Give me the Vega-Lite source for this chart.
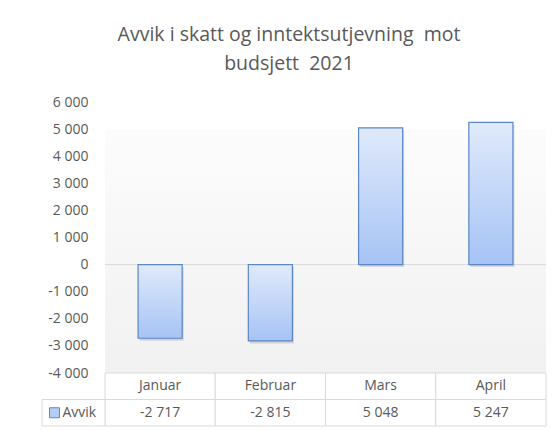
{
  "$schema": "https://vega.github.io/schema/vega-lite/v6.json",
  "background": "white",
  "padding": {"left": 41, "top": 24, "right": 7, "bottom": 4},
  "bounds": "flush",
  "config": {
    "locale": {"number": {"decimal": ",", "thousands": " ", "grouping": [3], "currency": ["", " kr"], "minus": "-"}},
    "font": "Open Sans",
    "view": {"stroke": null},
    "axis": {"grid": false},
    "axisY": {"values": [-4000, -3000, -2000, -1000, 0, 1000, 2000, 3000, 4000, 5000, 6000], "format": ",d", "grid": false, "domain": false, "ticks": false, "labelOverlap": false, "labelPadding": 17, "labelFontSize": 14, "labelColor": "#595959", "labelFont": "Open Sans", "title": null}
  },
  "title": {
    "text": ["Avvik i skatt og inntektsutjevning \u00a0mot", "budsjett \u00a02021"],
    "fontSize": 19.5,
    "font": "Open Sans",
    "fontWeight": "normal",
    "color": "#595959",
    "lineHeight": 29,
    "offset": 21,
    "dx": -5,
    "anchor": "middle"
  },
  "data": {"values": [
    {"month": "Januar", "Avvik": -2717},
    {"month": "Februar", "Avvik": -2815},
    {"month": "Mars", "Avvik": 5048},
    {"month": "April", "Avvik": 5247}
  ]},
  "spacing": 0,
  "vconcat": [
    {
      "width": 441,
      "height": 271,
      "layer": [
        {
          "data": {"values": [{}]},
          "mark": {"type": "rect", "fill": {"gradient": "linear", "x1": 0, "y1": 0, "x2": 0, "y2": 1, "stops": [{"offset": 0, "color": "#fcfcfc"}, {"offset": 1, "color": "#f1f1f1"}]}},
          "encoding": {
            "y": {"datum": 5000, "type": "quantitative", "scale": {"domain": [-4000, 6000], "nice": false, "zero": false},
              "axis": {"values": [-4000, -3000, -2000, -1000, 0, 1000, 2000, 3000, 4000, 5000, 6000], "format": ",d", "labelOverlap": false, "title": null}},
            "y2": {"datum": -4000}
          }
        },
        {
          "data": {"values": [{}]},
          "mark": {"type": "rule", "color": "#d9d9d9", "strokeWidth": 1},
          "encoding": {"y": {"datum": 0, "type": "quantitative",
            "axis": {"values": [-4000, -3000, -2000, -1000, 0, 1000, 2000, 3000, 4000, 5000, 6000], "format": ",d", "labelOverlap": false, "title": null}}}
        },
        {
          "mark": {"type": "bar", "fill": "#000000", "opacity": 0.13, "xOffset": 1.5, "yOffset": 2.5},
          "encoding": {
            "x": {"field": "month", "type": "nominal", "sort": null, "axis": null, "scale": {"paddingInner": 0.6, "paddingOuter": 0.3}},
            "y": {"field": "Avvik", "type": "quantitative",
              "axis": {"values": [-4000, -3000, -2000, -1000, 0, 1000, 2000, 3000, 4000, 5000, 6000], "format": ",d", "labelOverlap": false, "title": null}}
          }
        },
        {
          "mark": {"type": "bar", "fill": {"gradient": "linear", "x1": 0, "y1": 0, "x2": 0, "y2": 1, "stops": [{"offset": 0, "color": "#e0eafb"}, {"offset": 1, "color": "#a6c3f5"}]}, "stroke": "#5b87c6", "strokeWidth": 1.2},
          "encoding": {
            "x": {"field": "month", "type": "nominal", "sort": null, "axis": null},
            "y": {"field": "Avvik", "type": "quantitative",
              "axis": {"values": [-4000, -3000, -2000, -1000, 0, 1000, 2000, 3000, 4000, 5000, 6000], "format": ",d", "labelOverlap": false, "title": null}}
          }
        }
      ]
    },
    {
      "width": 441,
      "height": 53,
      "resolve": {"scale": {"x": "independent"}},
      "layer": [
        {
          "mark": {"type": "rect", "fill": "white", "stroke": "#d9d9d9", "strokeWidth": 1},
          "encoding": {
            "x": {"field": "month", "type": "nominal", "sort": null, "axis": null, "scale": {"paddingInner": 0, "paddingOuter": 0}},
            "y": {"datum": "hdr", "type": "nominal", "axis": null, "scale": {"domain": ["hdr", "Avvik"], "paddingInner": 0, "paddingOuter": 0}}
          }
        },
        {
          "mark": {"type": "rect", "fill": "white", "stroke": "#d9d9d9", "strokeWidth": 1},
          "encoding": {
            "x": {"field": "month", "type": "nominal", "sort": null, "axis": null, "scale": {"paddingInner": 0, "paddingOuter": 0}},
            "y": {"datum": "Avvik", "type": "nominal", "axis": null}
          }
        },
        {
          "mark": {"type": "text", "color": "#595959", "fontSize": 14, "font": "Open Sans"},
          "encoding": {
            "x": {"field": "month", "type": "nominal", "sort": null, "axis": null},
            "y": {"datum": "hdr", "type": "nominal", "axis": null},
            "text": {"field": "month", "type": "nominal"}
          }
        },
        {
          "mark": {"type": "text", "color": "#595959", "fontSize": 14, "font": "Open Sans"},
          "encoding": {
            "x": {"field": "month", "type": "nominal", "sort": null, "axis": null},
            "y": {"datum": "Avvik", "type": "nominal", "axis": null},
            "text": {"field": "Avvik", "type": "quantitative", "format": ",d"}
          }
        },
        {
          "data": {"values": [{}]},
          "mark": {"type": "rect", "fill": "white", "stroke": "#d9d9d9", "strokeWidth": 1},
          "encoding": {
            "x": {"datum": "legend", "type": "nominal", "axis": null, "scale": {"domain": ["legend"], "range": [-63, 0], "paddingInner": 0, "paddingOuter": 0}},
            "y": {"datum": "Avvik", "type": "nominal", "axis": null}
          }
        },
        {
          "data": {"values": [{}]},
          "mark": {"type": "point", "shape": "square", "size": 100, "filled": true, "fill": "#b4cdf5", "stroke": "#5b87c6", "strokeWidth": 1, "opacity": 1, "xOffset": -19},
          "encoding": {
            "x": {"datum": "legend", "type": "nominal", "axis": null, "scale": {"domain": ["legend"], "range": [-63, 0]}},
            "y": {"datum": "Avvik", "type": "nominal", "axis": null}
          }
        },
        {
          "data": {"values": [{}]},
          "mark": {"type": "text", "text": "Avvik", "align": "left", "dx": -11, "color": "#595959", "fontSize": 14, "font": "Open Sans"},
          "encoding": {
            "x": {"datum": "legend", "type": "nominal", "axis": null, "scale": {"domain": ["legend"], "range": [-63, 0]}},
            "y": {"datum": "Avvik", "type": "nominal", "axis": null}
          }
        }
      ]
    }
  ]
}
